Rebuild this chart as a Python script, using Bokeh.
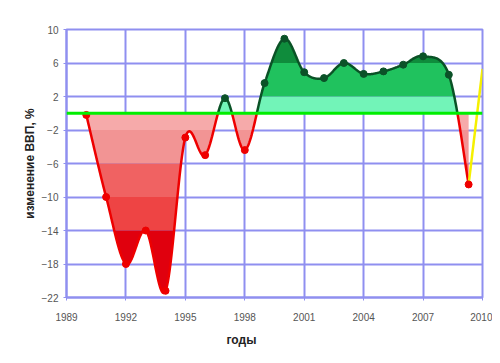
import numpy as np
from bokeh.plotting import figure
from bokeh.models import FixedTicker, Span, Title, ColumnDataSource
from bokeh.embed import file_html
from bokeh.resources import INLINE

# ---- data ----
years = [1990, 1991, 1992, 1993, 1994, 1995, 1996, 1997, 1998, 1999,
         2000, 2001, 2002, 2003, 2004, 2005, 2006, 2007, 2008.3, 2009.3]
gdp_change = [-0.2, -10.0, -18.0, -14.0, -21.2, -2.9, -5.0, 1.8, -4.4, 3.6,
              8.9, 4.9, 4.2, 6.0, 4.7, 5.0, 5.8, 6.8, 4.6, -8.5]
forecast_years = [2009.3, 2010]
forecast_change = [-8.5, 5.3]
x_ticks = [1989, 1992, 1995, 1998, 2001, 2004, 2007, 2010]
y_ticks = [-22, -18, -14, -10, -6, -2, 2, 6, 10]

neg_bands = [(0, -2, "#f6aaaa"), (-2, -6, "#f29494"), (-6, -10, "#f06262"),
             (-10, -14, "#ee4444"), (-14, -40, "#e0000e")]
pos_bands = [(0, 2, "#72f4b8"), (2, 6, "#20c25e"), (6, 20, "#0f8c3c")]

GRID = "#8f8ff0"

# ---- smooth curve (Bezier through the points, like a smoothed line) ----
def smooth(xs, ys, n=40):
    P = np.column_stack([xs, ys]).astype(float)
    out = []
    m = len(P)
    for i in range(m - 1):
        p0 = P[i - 1] if i > 0 else P[i]
        p1 = P[i]
        p2 = P[i + 1]
        p3 = P[i + 2] if i + 2 < m else P[i + 1]
        c1 = p1 + (p2 - p0) / 6.0
        c2 = p2 - (p3 - p1) / 6.0
        t = np.linspace(0, 1, n, endpoint=(i == m - 2))[:, None]
        b = ((1 - t) ** 3) * p1 + 3 * ((1 - t) ** 2) * t * c1 + 3 * (1 - t) * t ** 2 * c2 + t ** 3 * p2
        out.append(b)
    B = np.vstack(out)
    return B[:, 0], B[:, 1]

sx, sy = smooth(years, gdp_change)
cx, cy = [sx[0]], [sy[0]]
for i in range(1, len(sx)):
    y0, y1 = sy[i - 1], sy[i]
    if y0 * y1 < 0:
        f = y0 / (y0 - y1)
        cx.append(sx[i - 1] + f * (sx[i] - sx[i - 1]))
        cy.append(0.0)
    cx.append(sx[i])
    cy.append(sy[i])
cx = np.array(cx)
cy = np.array(cy)

p = figure(frame_width=416, frame_height=268, output_backend="svg", toolbar_location=None,
           x_range=(1989, 2010), y_range=(-22, 10),
           min_border_left=66, min_border_right=10, min_border_top=29, min_border_bottom=10,
           background_fill_color="white", border_fill_color="white")

p.outline_line_color = GRID
p.outline_line_width = 2

for hi, lo, col in neg_bands:
    p.varea(x=cx, y1=np.full_like(cy, hi), y2=np.clip(cy, lo, hi), fill_color=col)
for lo, hi, col in pos_bands:
    p.varea(x=cx, y1=np.full_like(cy, lo), y2=np.clip(cy, lo, hi), fill_color=col)

p.add_layout(Span(location=0, dimension="width", line_color="#00ee00", line_width=3))

p.line(cx, np.where(cy <= 0, cy, np.nan), line_color="#ee0000", line_width=2.5)
p.line(cx, np.where(cy >= 0, cy, np.nan), line_color="#0a5226", line_width=2.5)

p.line(forecast_years, forecast_change, line_color="#f5f000", line_width=2.5)

colors = ["#ee0000" if v <= 0 else "#0b5228" for v in gdp_change]
src = ColumnDataSource(dict(x=years, y=gdp_change, c=colors))
p.scatter("x", "y", source=src, size=7, fill_color="c", line_color="c")

p.xaxis.ticker = FixedTicker(ticks=x_ticks)
p.yaxis.ticker = FixedTicker(ticks=y_ticks)
for ax in (p.xaxis, p.yaxis):
    ax.axis_line_color = GRID
    ax.axis_line_width = 2
    ax.major_tick_line_color = GRID
    ax.major_tick_out = 3
    ax.major_tick_in = 0
    ax.minor_tick_line_color = None
    ax.major_label_text_font = "Liberation Sans"
    ax.major_label_text_font_size = "10px"
    ax.major_label_text_color = "#555555"
p.xaxis.major_label_standoff = 12
p.yaxis.major_label_standoff = 5

p.yaxis.axis_label = "изменение ВВП, %"
p.yaxis.axis_label_text_font = "Liberation Sans"
p.yaxis.axis_label_text_font_style = "bold"
p.yaxis.axis_label_text_font_size = "12px"
p.yaxis.axis_label_text_color = "#222222"
p.yaxis.axis_label_standoff = 2

p.xgrid.ticker = FixedTicker(ticks=x_ticks)
p.ygrid.ticker = FixedTicker(ticks=y_ticks)
for g in (p.xgrid, p.ygrid):
    g.grid_line_color = GRID
    g.grid_line_width = 2

p.add_layout(Title(text="годы", align="left", offset=160, text_font="Liberation Sans",
                   text_font_style="bold", text_font_size="12px", text_color="#222222",
                   standoff=14), "below")

open("out.html", "w").write(file_html(p, INLINE))
